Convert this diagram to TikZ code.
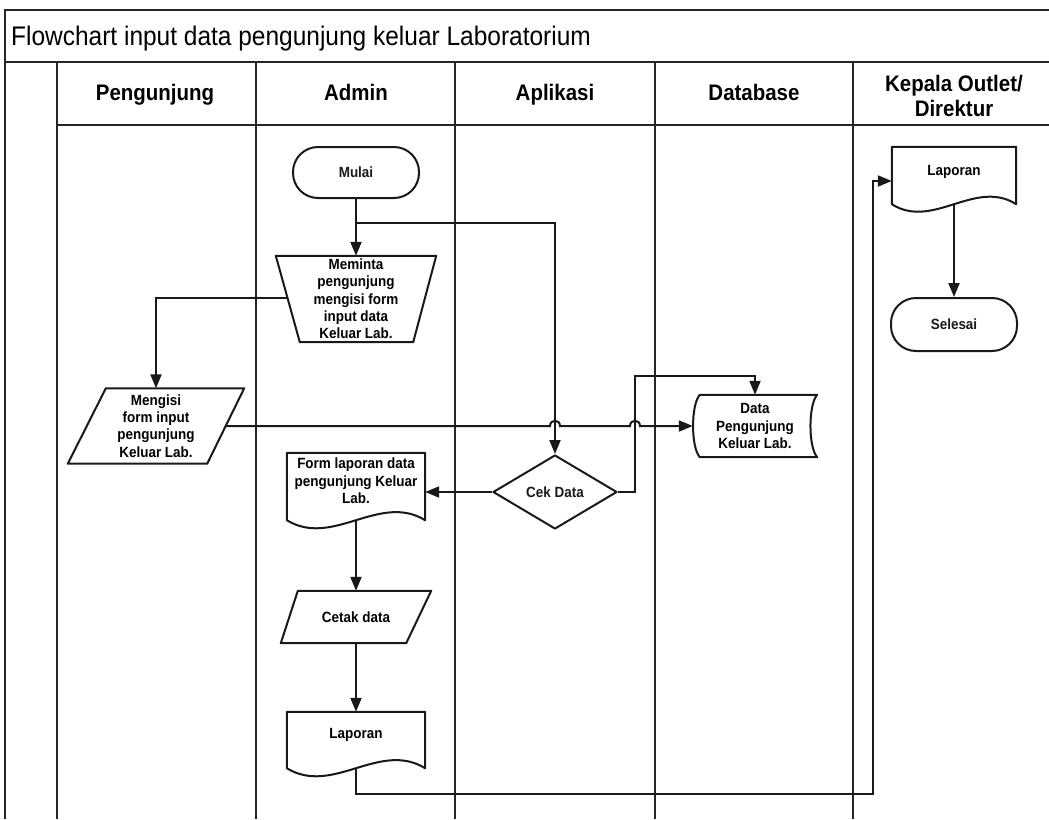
\documentclass[tikz,border=0pt]{standalone}
\usepackage{fontspec}
\setmainfont{Liberation Sans}[FakeStretch=0.91]
\usetikzlibrary{arrows.meta,shapes.geometric,calc}

\begin{document}
\begin{tikzpicture}[x=1pt,y=-1pt,
  frame/.style={line width=2pt, black!85},
  outline/.style={line width=2pt, black!90, line join=round},
  conn/.style={line width=2pt, black!90},
  arr/.style={conn, -{Triangle[length=14pt,width=11pt]}},
  hdr/.style={font=\fontsize{22.5}{25}\selectfont\bfseries, inner sep=0pt, align=center},
  box/.style={inner sep=0pt, align=center, font=\fontsize{14.8}{17.3}\selectfont\bfseries},
  term/.style={box, draw, outline, rounded corners=25pt, minimum width=126pt, minimum height=51pt},
]
\useasboundingbox (0,0) rectangle (1049,819);
\fill[white] (0,0) rectangle (1049,819);

% swimlane frame
\draw[frame] (1049,10) -- (5,10) -- (5,819);
\draw[frame] (5,62) -- (1049,62);
\draw[frame] (57,125) -- (1049,125);
\foreach \x in {57,256,455,655,853} \draw[frame] (\x,62) -- (\x,819);

% title and lane headers
\node[anchor=base west, inner sep=0pt, font=\fontsize{26.9}{30}\selectfont] (title) at (11,45)
  {Flowchart input data pengunjung keluar Laboratorium};
\node[hdr, anchor=base] (hpeng) at (155,100) {Pengunjung};
\node[hdr, anchor=base] (hadmin) at (356,100) {Admin};
\node[hdr, anchor=base] (hapl) at (555,100) {Aplikasi};
\node[hdr, anchor=base] (hdb) at (754,100) {Database};
\node[hdr] (hkep) at (954,96) {Kepala Outlet/\\Direktur};

% start
\node[term] (mulai) at (356,172.5) {Mulai};

% manual operation
\node[box, minimum width=160pt, minimum height=86pt] (meminta) at (356,299)
  {Meminta\\pengunjung\\mengisi form\\input data\\Keluar Lab.};
\draw[outline] (meminta.north west) -- (meminta.north east)
  -- ([shift={(-23,0)}]meminta.south east) -- ([shift={(24,0)}]meminta.south west) -- cycle;

% visitor input
\node[box, minimum width=176pt, minimum height=75pt] (mengisi) at (156,426)
  {Mengisi\\form input\\pengunjung\\Keluar Lab.};
\draw[outline] ([shift={(38,0)}]mengisi.north west) -- (mengisi.north east)
  -- ([shift={(-37,0)}]mengisi.south east) -- (mengisi.south west) -- cycle;

% stored data
\node[box, minimum width=124pt, minimum height=62pt] (datap) at (755,426)
  {Data\\Pengunjung\\Keluar Lab.};
\draw[outline] ([shift={(7,0)}]datap.north west) -- (datap.north east)
  .. controls ([shift={(-9,10)}]datap.north east) and ([shift={(-9,-10)}]datap.south east) .. (datap.south east)
  -- ([shift={(7,0)}]datap.south west)
  .. controls ([shift={(-2,-10)}]datap.south west) and ([shift={(-2,10)}]datap.north west) .. ([shift={(7,0)}]datap.north west)
  -- cycle;

% decision
\node[box, diamond, draw, outline, minimum width=124pt, minimum height=74pt] (cek) at (555,492) {Cek Data};

% report form document
\node[box, minimum width=138pt, minimum height=56pt] (form) at (356,481)
  {Form laporan data\\pengunjung Keluar\\Lab.};
\draw[outline] (form.north west) -- (form.north east) -- ([shift={(0,11)}]form.south east)
  .. controls ([shift={(-46,-17)}]form.south east) and ([shift={(46,39)}]form.south west) .. ([shift={(0,11)}]form.south west)
  -- cycle;

% print
\node[box, minimum width=150pt, minimum height=52pt] (cetak) at (356,617) {Cetak data};
\draw[outline] ([shift={(17,0)}]cetak.north west) -- (cetak.north east)
  -- ([shift={(-25,0)}]cetak.south east) -- (cetak.south west) -- cycle;

% admin report document
\node[box, minimum width=138pt, minimum height=46pt] (lapa) at (356,735) {Laporan};
\draw[outline] (lapa.north west) -- (lapa.north east) -- ([shift={(0,10)}]lapa.south east)
  .. controls ([shift={(-46,-18)}]lapa.south east) and ([shift={(46,38)}]lapa.south west) .. ([shift={(0,10)}]lapa.south west)
  -- cycle;

% head report document
\node[box, minimum width=124pt, minimum height=50pt] (lapk) at (954,172) {Laporan};
\draw[outline] (lapk.north west) -- (lapk.north east) -- ([shift={(0,7)}]lapk.south east)
  .. controls ([shift={(-41,-19)}]lapk.south east) and ([shift={(41,33)}]lapk.south west) .. ([shift={(0,7)}]lapk.south west)
  -- cycle;

% end
\node[term, minimum height=53pt] (selesai) at (954,324.5) {Selesai};

% connectors
\coordinate (j1) at (356,223);
\coordinate (c2) at (635,376);
\coordinate (r1) at (873,794);
\draw[arr] (mulai.south) -- (meminta.north);
\draw[arr] (j1) -| (cek.north);
\draw[arr] ([shift={(12,-1)}]meminta.west) -| (mengisi.north);
\draw[arr] ([shift={(-18.5,0)}]mengisi.east) -- (550,426)
  .. controls (550,419) and (560,419) .. (560,426) -- (630,426)
  .. controls (630,419) and (640,419) .. (640,426) -- (datap.west);
\draw[arr] (cek.east) -| (c2) -| (datap.north);
\draw[arr] (cek.west) -- (cek.west -| form.east);
\draw[arr] ([shift={(0,11)}]form.south) -- (cetak.north);
\draw[arr] (cetak.south) -- (lapa.north);
\draw[arr] ([shift={(0,10)}]lapa.south) |- (r1) |- ([shift={(0,9)}]lapk.west);
\draw[arr] ([shift={(0,7)}]lapk.south) -- (selesai.north);
\end{tikzpicture}
\end{document}
